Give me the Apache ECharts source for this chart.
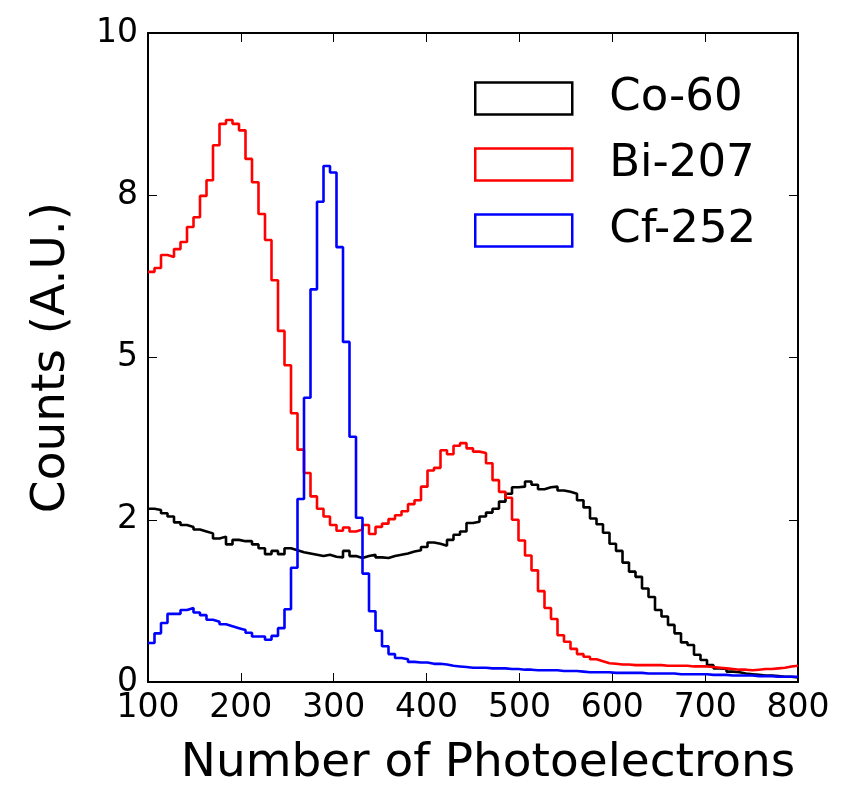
<!DOCTYPE html>
<html>
<head>
<meta charset="utf-8">
<script src="https://cdn.jsdelivr.net/npm/echarts@6/dist/echarts.min.js"></script>
<style>
  html, body { margin: 0; padding: 0; background: #fff; }
  #chart { width: 843px; height: 786px; }
</style>
</head>
<body>
<div id="chart"></div>
<script>
// histogram binning: 100 bins of width 7 starting at 100 photoelectrons
var binStart = 100;
var binWidth = 7;

var seriesNames = ['Co-60', 'Bi-207', 'Cf-252'];
var seriesColors = ['#000000', '#ff0000', '#0000ff'];

var xTickLabels = ['100', '200', '300', '400', '500', '600', '700', '800'];
var yTickLabels = ['0', '2', '5', '8', '10'];

// counts per bin
var co60 = [
  2.67, 2.65, 2.60, 2.55, 2.46, 2.42, 2.39, 2.35, 2.32, 2.29,
  2.21, 2.24, 2.12, 2.19, 2.17, 2.17, 2.12, 2.06, 1.97, 2.02,
  1.97, 2.06, 2.03, 2.00, 1.98, 1.96, 1.94, 1.96, 1.93, 1.92,
  2.02, 1.94, 1.91, 1.94, 1.96, 1.92, 1.91, 1.94, 1.96, 1.98,
  2.01, 2.03, 2.08, 2.15, 2.13, 2.10, 2.19, 2.27, 2.32, 2.45,
  2.47, 2.55, 2.61, 2.67, 2.78, 2.90, 3.00, 3.01, 3.09, 3.04,
  2.97, 3.00, 3.01, 2.95, 2.93, 2.90, 2.80, 2.69, 2.52, 2.43,
  2.30, 2.13, 2.02, 1.84, 1.70, 1.62, 1.44, 1.31, 1.11, 1.01,
  0.88, 0.75, 0.61, 0.57, 0.42, 0.34, 0.26, 0.21, 0.20, 0.16,
  0.15, 0.13, 0.12, 0.11, 0.10, 0.10, 0.09, 0.08, 0.08, 0.07
];

var bi207 = [
  6.32, 6.38, 6.58, 6.55, 6.67, 6.78, 7.01, 7.16, 7.49, 7.73,
  8.27, 8.60, 8.66, 8.60, 8.50, 8.06, 7.70, 7.21, 6.81, 6.19,
  5.41, 4.88, 4.14, 3.58, 3.22, 2.86, 2.67, 2.55, 2.42, 2.33,
  2.38, 2.32, 2.35, 2.42, 2.28, 2.39, 2.44, 2.51, 2.57, 2.63,
  2.74, 2.80, 3.01, 3.26, 3.30, 3.57, 3.51, 3.64, 3.68, 3.60,
  3.55, 3.53, 3.37, 3.11, 2.93, 2.84, 2.50, 2.18, 1.95, 1.72,
  1.40, 1.14, 0.97, 0.72, 0.62, 0.51, 0.43, 0.39, 0.35, 0.32,
  0.29, 0.28, 0.27, 0.27, 0.26, 0.26, 0.26, 0.26, 0.26, 0.25,
  0.25, 0.25, 0.25, 0.24, 0.24, 0.24, 0.23, 0.22, 0.21, 0.20,
  0.19, 0.19, 0.18, 0.19, 0.20, 0.20, 0.21, 0.22, 0.24, 0.25
];

var cf252 = [
  0.60, 0.75, 0.91, 1.05, 1.05, 1.11, 1.14, 1.07, 1.03, 0.96,
  0.93, 0.89, 0.86, 0.83, 0.80, 0.76, 0.70, 0.70, 0.65, 0.71,
  0.83, 1.12, 1.76, 2.82, 4.38, 6.05, 7.40, 7.95, 7.85, 6.70,
  5.24, 3.78, 2.53, 1.67, 1.09, 0.79, 0.55, 0.43, 0.37, 0.35,
  0.31, 0.30, 0.30, 0.28, 0.28, 0.27, 0.25, 0.24, 0.23, 0.22,
  0.22, 0.22, 0.21, 0.21, 0.21, 0.20, 0.20, 0.19, 0.19, 0.18,
  0.18, 0.18, 0.18, 0.17, 0.17, 0.17, 0.16, 0.15, 0.15, 0.15,
  0.15, 0.14, 0.14, 0.14, 0.14, 0.14, 0.13, 0.13, 0.13, 0.13,
  0.13, 0.12, 0.12, 0.12, 0.12, 0.12, 0.11, 0.11, 0.11, 0.10,
  0.10, 0.10, 0.10, 0.09, 0.09, 0.09, 0.08, 0.08, 0.08, 0.08
];

var FONT = 'DejaVu Sans';

// turn bin counts into [leftEdge, value] pairs plus the closing right edge
function toSteps(counts) {
  var pts = [];
  for (var i = 0; i < counts.length; i++) {
    pts.push([binStart + i * binWidth, counts[i]]);
  }
  pts.push([binStart + counts.length * binWidth, counts[counts.length - 1]]);
  return pts;
}

var chart = echarts.init(document.getElementById('chart'));

var frameLine = { show: true, onZero: false, lineStyle: { color: '#000', width: 2 } };
var innerTick = { show: true, inside: true, length: 9, lineStyle: { color: '#000', width: 1 } };

var option = {
  animation: false,
  backgroundColor: '#fff',
  grid: { left: 148, right: 45, top: 33, bottom: 104, containLabel: false, outerBoundsMode: 'none' },
  legend: {
    orient: 'vertical',
    left: 469,
    top: 71,
    icon: 'rect',
    itemWidth: 97,
    itemHeight: 32,
    itemGap: 21,
    textStyle: { fontFamily: FONT, fontSize: 45, color: '#000', padding: [0, 0, 0, 32] },
    data: seriesNames.map(function (n, k) {
      return { name: n, itemStyle: { color: 'transparent', borderColor: seriesColors[k], borderWidth: 2.5 } };
    })
  },
  xAxis: [{
    type: 'value',
    min: 100, max: 800, interval: 100,
    name: 'Number of Photoelectrons',
    nameLocation: 'middle',
    nameGap: 58,
    nameTextStyle: { fontFamily: FONT, fontSize: 47, color: '#000', padding: [0, 0, 0, 30] },
    axisLine: frameLine,
    axisTick: innerTick,
    splitLine: { show: false },
    axisLabel: {
      fontFamily: FONT, fontSize: 33, color: '#000', margin: 10,
      formatter: function (v) { return xTickLabels[Math.round((v - 100) / 100)]; }
    }
  }, {
    type: 'value', position: 'top',
    min: 100, max: 800, interval: 100,
    axisLine: frameLine, axisTick: innerTick,
    axisLabel: { show: false }, splitLine: { show: false }
  }],
  yAxis: [{
    type: 'value',
    min: 0, max: 10, interval: 2.5,
    name: 'Counts (A.U.)',
    nameLocation: 'middle',
    nameGap: 73,
    nameTextStyle: { fontFamily: FONT, fontSize: 47, color: '#000' },
    axisLine: frameLine,
    axisTick: innerTick,
    splitLine: { show: false },
    axisLabel: {
      fontFamily: FONT, fontSize: 33, color: '#000', margin: 10,
      formatter: function (v) { return yTickLabels[Math.round(v / 2.5)]; }
    }
  }, {
    type: 'value', position: 'right',
    min: 0, max: 10, interval: 2.5,
    axisLine: frameLine, axisTick: innerTick,
    axisLabel: { show: false }, splitLine: { show: false }
  }],
  series: [co60, bi207, cf252].map(function (counts, k) {
    return {
      name: seriesNames[k],
      type: 'line',
      step: 'end',
      showSymbol: false,
      symbol: 'none',
      lineStyle: { color: seriesColors[k], width: 2.6 },
      itemStyle: { color: seriesColors[k] },
      data: toSteps(counts)
    };
  })
};

chart.setOption(option);
</script>
</body>
</html>
